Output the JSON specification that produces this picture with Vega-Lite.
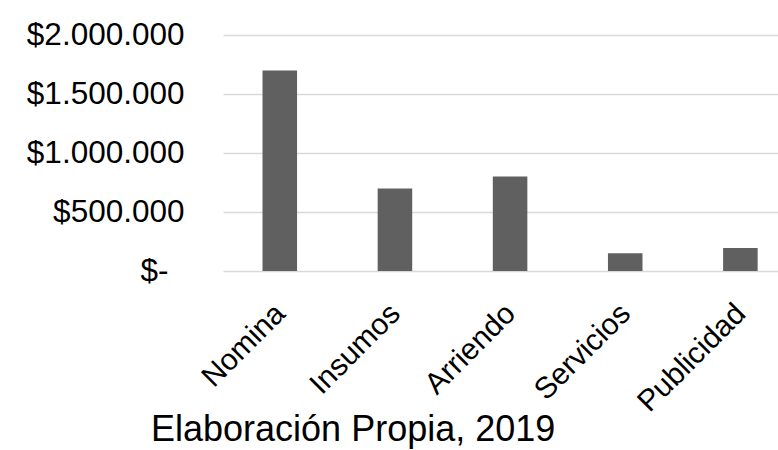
{
  "$schema": "https://vega.github.io/schema/vega-lite/v6.json",
  "width": 555,
  "height": 236,
  "autosize": {"type": "none"},
  "padding": {"left": 223, "top": 35, "right": 0, "bottom": 179},
  "background": "white",
  "config": {
    "view": {"stroke": null},
    "font": "Liberation Sans",
    "locale": {"number": {"decimal": ",", "thousands": ".", "grouping": [3], "currency": ["$", ""]}}
  },
  "title": {
    "text": "Elaboración Propia, 2019",
    "orient": "bottom",
    "anchor": "start",
    "frame": "group",
    "dx": -72,
    "offset": -4,
    "fontSize": 36,
    "fontWeight": "normal",
    "font": "Liberation Sans",
    "color": "black"
  },
  "data": {
    "values": [
      {"categoria": "Nomina", "valor": 1700000},
      {"categoria": "Insumos", "valor": 700000},
      {"categoria": "Arriendo", "valor": 800000},
      {"categoria": "Servicios", "valor": 150000},
      {"categoria": "Publicidad", "valor": 195000}
    ]
  },
  "mark": {"type": "bar", "color": "#606060"},
  "encoding": {
    "x": {
      "field": "categoria",
      "type": "nominal",
      "sort": null,
      "scale": {"paddingInner": 0.7, "paddingOuter": 0.26, "align": 0.66},
      "axis": {
        "title": null,
        "domain": false,
        "ticks": false,
        "labelAngle": -45,
        "labelFontSize": 30,
        "labelColor": "black",
        "labelPadding": 27,
        "labelOffset": -10,
        "labelFont": "Liberation Sans"
      }
    },
    "y": {
      "field": "valor",
      "type": "quantitative",
      "scale": {"domain": [0, 2000000]},
      "axis": {
        "title": null,
        "values": [0, 500000, 1000000, 1500000, 2000000],
        "format": "$,.0f",
        "labelExpr": "datum.value == 0 ? '$-' : datum.label",
        "domain": false,
        "ticks": false,
        "labelPadding": {"condition": {"test": "datum.value == 0", "value": 55}, "value": 39},
        "labelFontSize": 31.5,
        "labelColor": "black",
        "labelFont": "Liberation Sans",
        "gridColor": "#d9d9d9",
        "gridWidth": 1.5
      }
    }
  }
}
